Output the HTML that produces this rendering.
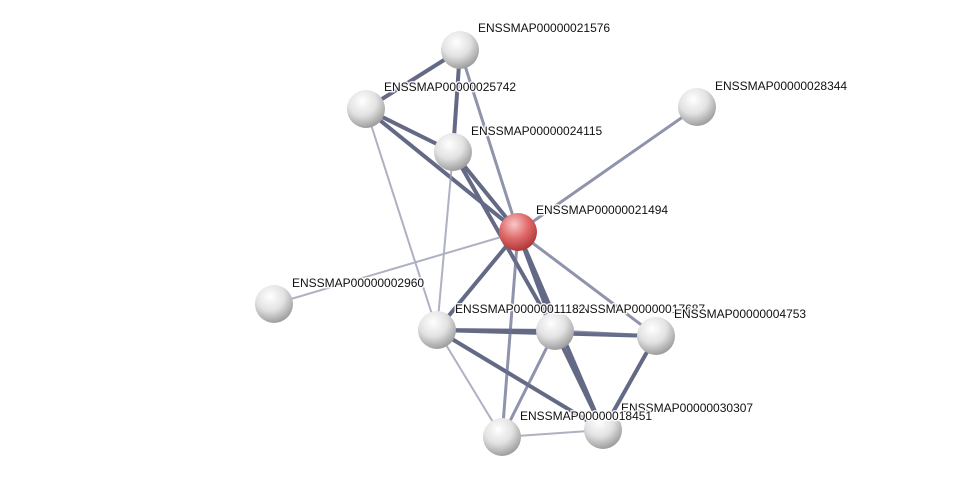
<!DOCTYPE html>
<html><head><meta charset="utf-8"><style>
html,body{margin:0;padding:0;background:#fff;width:975px;height:483px;overflow:hidden}
text{font-family:"Liberation Sans",sans-serif;font-size:12px;fill:#111;stroke:#fff;stroke-width:3px;stroke-opacity:0.85;paint-order:stroke;stroke-linejoin:round}
</style></head><body>
<svg width="975" height="483" viewBox="0 0 975 483" xmlns="http://www.w3.org/2000/svg">
<defs>
<radialGradient id="g" cx="0.4" cy="0.3" r="0.75">
<stop offset="0" stop-color="#ffffff"/><stop offset="0.5" stop-color="#e2e2e2"/><stop offset="1" stop-color="#949494"/>
</radialGradient>
<radialGradient id="r" cx="0.4" cy="0.3" r="0.75">
<stop offset="0" stop-color="#f8c8c8"/><stop offset="0.5" stop-color="#e06a6a"/><stop offset="1" stop-color="#a83030"/>
</radialGradient>
</defs>
<g stroke-linecap="round">
<g stroke="#4a5070" stroke-width="4" opacity="0.85">
<line x1="460" y1="50" x2="366" y2="109"/>
<line x1="460" y1="50" x2="453" y2="152"/>
<line x1="366" y1="109" x2="453" y2="152"/>
<line x1="366" y1="109" x2="518" y2="232"/>
<line x1="453" y1="152" x2="518" y2="232"/>
<line x1="453" y1="152" x2="555" y2="331"/>
<line x1="518" y1="232" x2="437" y2="330"/>
<line x1="518" y1="232" x2="555" y2="331"/>
<line x1="518" y1="232" x2="603" y2="430"/>
<line x1="437" y1="330" x2="555" y2="331"/>
<line x1="437" y1="330" x2="656" y2="336"/>
<line x1="437" y1="330" x2="603" y2="430"/>
<line x1="555" y1="331" x2="603" y2="430"/>
<line x1="656" y1="336" x2="603" y2="430"/>
</g>
<g stroke="#6a7090" stroke-width="3" opacity="0.75">
<line x1="460" y1="50" x2="518" y2="232"/>
<line x1="697" y1="107" x2="518" y2="232"/>
<line x1="518" y1="232" x2="656" y2="336"/>
<line x1="518" y1="232" x2="502" y2="437"/>
<line x1="555" y1="331" x2="656" y2="336"/>
<line x1="555" y1="331" x2="502" y2="437"/>
</g>
<g stroke="#9a9eb4" stroke-width="2" opacity="0.8">
<line x1="366" y1="109" x2="437" y2="330"/>
<line x1="453" y1="152" x2="437" y2="330"/>
<line x1="518" y1="232" x2="274" y2="304"/>
<line x1="437" y1="330" x2="502" y2="437"/>
<line x1="502" y1="437" x2="603" y2="430"/>
</g>
</g>
<g>
<circle cx="460" cy="50" r="19" fill="url(#g)"/>
<circle cx="366" cy="109" r="19" fill="url(#g)"/>
<circle cx="453" cy="152" r="19" fill="url(#g)"/>
<circle cx="697" cy="107" r="19" fill="url(#g)"/>
<circle cx="518" cy="232" r="19" fill="url(#r)"/>
<circle cx="274" cy="304" r="19" fill="url(#g)"/>
<circle cx="437" cy="330" r="19" fill="url(#g)"/>
<circle cx="555" cy="331" r="19" fill="url(#g)"/>
<circle cx="656" cy="336" r="19" fill="url(#g)"/>
<circle cx="502" cy="437" r="19" fill="url(#g)"/>
<circle cx="603" cy="430" r="19" fill="url(#g)"/>
</g>
<g>
<text x="478" y="32">ENSSMAP00000021576</text>
<text x="384" y="91">ENSSMAP00000025742</text>
<text x="471" y="135">ENSSMAP00000024115</text>
<text x="715" y="90">ENSSMAP00000028344</text>
<text x="536" y="214">ENSSMAP00000021494</text>
<text x="292" y="287">ENSSMAP00000002960</text>
<text x="573" y="313">ENSSMAP00000017687</text>
<text x="455" y="313">ENSSMAP00000011182</text>
<text x="674" y="318">ENSSMAP00000004753</text>
<text x="621" y="412">ENSSMAP00000030307</text>
<text x="520" y="420">ENSSMAP00000018451</text>
</g>
</svg>
</body></html>
